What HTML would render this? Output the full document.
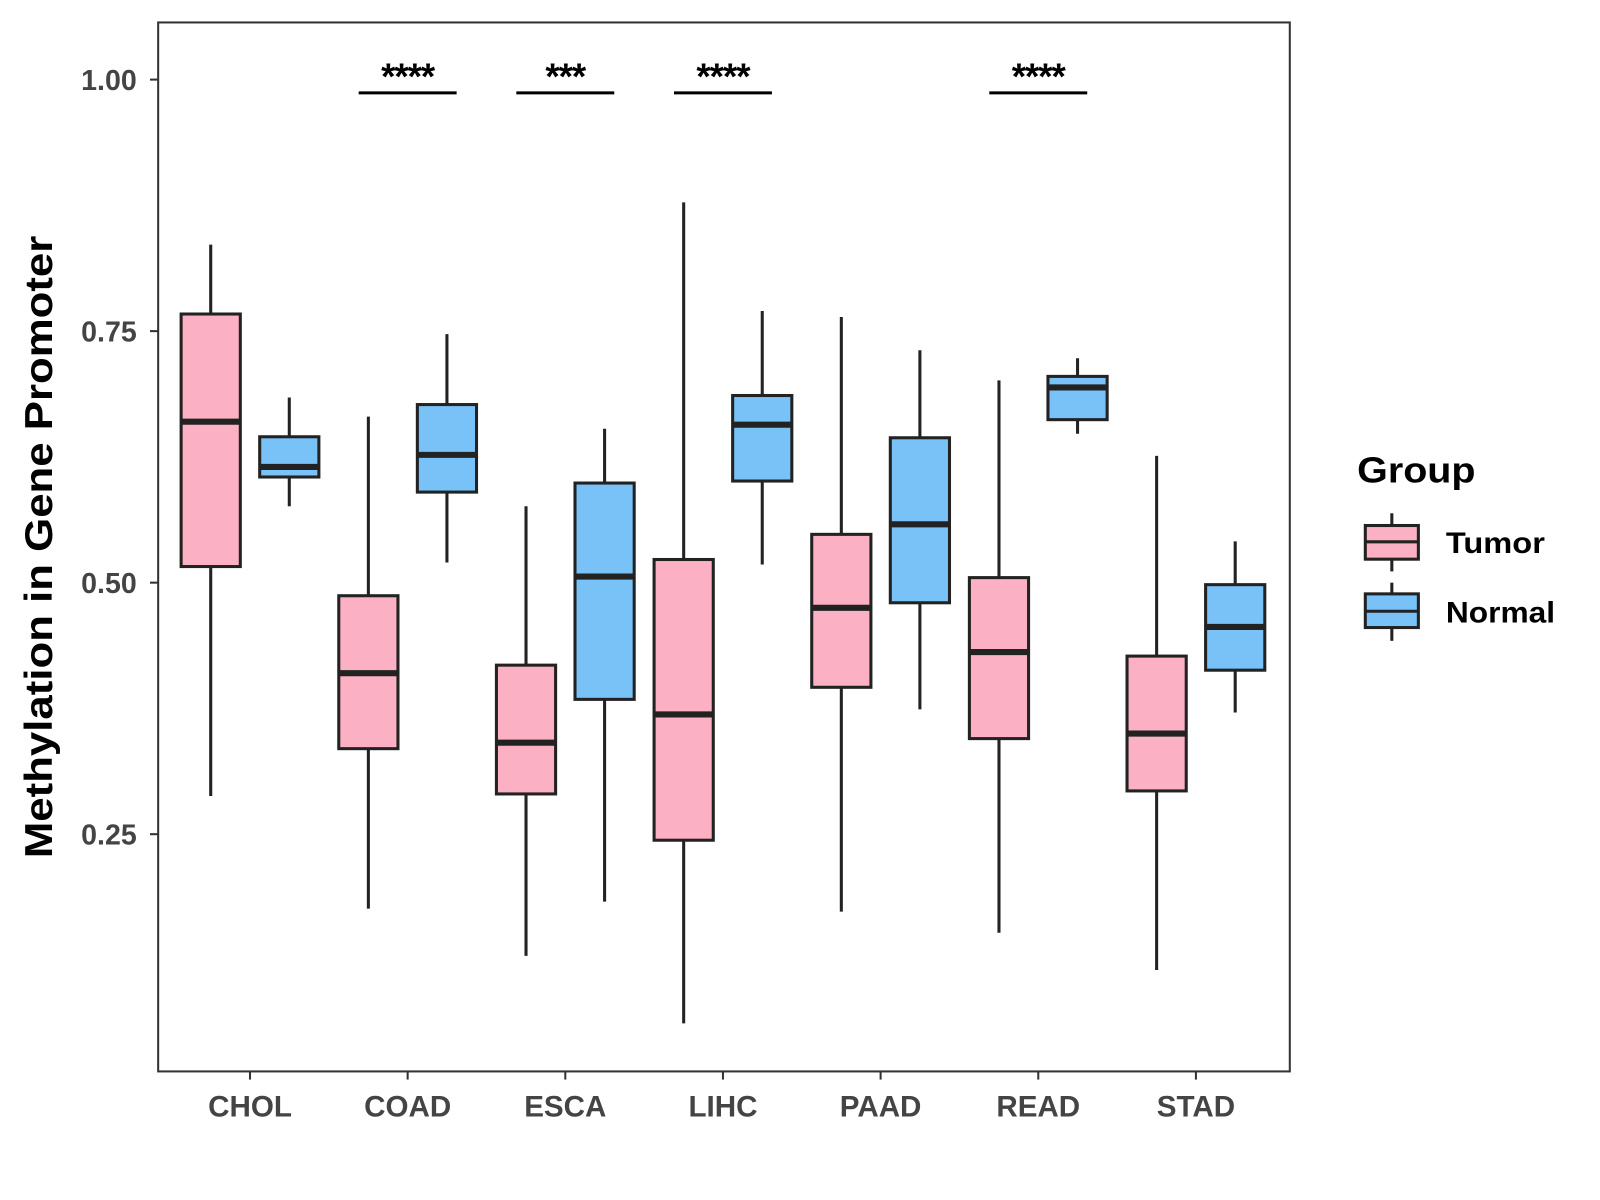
<!DOCTYPE html>
<html><head><meta charset="utf-8"><style>
html,body{margin:0;padding:0;background:#fff;}
svg{display:block;font-family:"Liberation Sans",Arial,sans-serif;}
</style></head><body>
<svg id="chart" width="1600" height="1200" viewBox="0 0 1568 1176">
<rect x="0" y="0" width="1568" height="1176" fill="#fff"/>
<rect x="155" y="22" width="1109" height="1028" fill="#fff" stroke="#333" stroke-width="2"/>
<g id="marks"></g>
<text x="0" y="0" transform="translate(51,536) rotate(-90)" text-anchor="middle" font-size="38" font-weight="bold" fill="#000" textLength="610" lengthAdjust="spacingAndGlyphs">Methylation in Gene Promoter</text>
<g>
<text x="1330" y="473" font-size="35" font-weight="bold" fill="#000" textLength="116" lengthAdjust="spacingAndGlyphs">Group</text>
<g>
<line x1="1364" y1="503" x2="1364" y2="560" stroke="#222" stroke-width="3"/>
<rect x="1338" y="515" width="52" height="33" fill="#fcb0c3" stroke="#222" stroke-width="3"/>
<line x1="1338" y1="531" x2="1390" y2="531" stroke="#222" stroke-width="3"/>
<text x="1417" y="542" font-size="29" font-weight="bold" fill="#000" textLength="97" lengthAdjust="spacingAndGlyphs">Tumor</text>
</g>
<g>
<line x1="1364" y1="571" x2="1364" y2="628" stroke="#222" stroke-width="3"/>
<rect x="1338" y="582" width="52" height="33" fill="#79c2f7" stroke="#222" stroke-width="3"/>
<line x1="1338" y1="599" x2="1390" y2="599" stroke="#222" stroke-width="3"/>
<text x="1417" y="610" font-size="29" font-weight="bold" fill="#000" textLength="107" lengthAdjust="spacingAndGlyphs">Normal</text>
</g>
</g>
</svg>
<script>
const categories = ["CHOL","COAD","ESCA","LIHC","PAAD","READ","STAD"];
// [low, q1, median, q3, high]
const tumorStats = [
  [0.288,0.516,0.660,0.767,0.836],
  [0.176,0.335,0.410,0.487,0.665],
  [0.129,0.290,0.341,0.418,0.576],
  [0.062,0.244,0.369,0.523,0.878],
  [0.173,0.396,0.475,0.548,0.764],
  [0.152,0.345,0.431,0.505,0.701],
  [0.115,0.293,0.350,0.427,0.626]
];
const normalStats = [
  [0.576,0.605,0.615,0.645,0.684],
  [0.520,0.590,0.627,0.677,0.747],
  [0.183,0.384,0.506,0.599,0.653],
  [0.518,0.601,0.657,0.686,0.770],
  [0.374,0.480,0.558,0.644,0.731],
  [0.648,0.662,0.694,0.705,0.723],
  [0.371,0.413,0.456,0.498,0.541]
];
const yTicks = [0.25,0.50,0.75,1.00];
const yTickLabels = ["0.25","0.50","0.75","1.00"];
const sigLabels = ["","****","***","****","","****",""];

const NS="http://www.w3.org/2000/svg";
const g=document.getElementById('marks');
function y(v){return 78+(1-v)*986;}
function x(i){return 245+i*154.5;}
const off=38.5, bw=58;
function mk(tag,attrs){const e=document.createElementNS(NS,tag);for(const k in attrs)e.setAttribute(k,attrs[k]);g.appendChild(e);return e;}

yTicks.forEach((t,i)=>{
  const l=mk('line',{x1:147,x2:155,y1:y(t),y2:y(t),stroke:'#333','stroke-width':2});
  
  
  const tx=mk('text',{x:134,y:y(t)+10,'text-anchor':'end','font-size':28,'font-weight':'bold',fill:'#444'});
  tx.textContent=yTickLabels[i];
  
  
});
categories.forEach((c,i)=>{
  const l=mk('line',{x1:x(i),x2:x(i),y1:1050,y2:1058,stroke:'#333','stroke-width':2});
  
  
  const tx=mk('text',{x:x(i),y:1094,'text-anchor':'middle','font-size':29,'font-weight':'bold',fill:'#444'});
  tx.textContent=c;
  
  
});
function box(cx,s,fill,name){
  const grp=document.createElementNS(NS,'g');g.appendChild(grp);
  
  
  const add=(tag,a)=>{const e=document.createElementNS(NS,tag);for(const k in a)e.setAttribute(k,a[k]);grp.appendChild(e);};
  add('line',{x1:cx,x2:cx,y1:y(s[4]),y2:y(s[0]),stroke:'#222','stroke-width':3});
  add('rect',{x:cx-bw/2,y:y(s[3]),width:bw,height:y(s[1])-y(s[3]),fill:fill,stroke:'#222','stroke-width':3});
  add('line',{x1:cx-bw/2,x2:cx+bw/2,y1:y(s[2]),y2:y(s[2]),stroke:'#222','stroke-width':6});
}
categories.forEach((c,i)=>{
  box(x(i)-off,tumorStats[i],'#fcb0c3','box-tumor-'+c.toLowerCase());
  box(x(i)+off,normalStats[i],'#79c2f7','box-normal-'+c.toLowerCase());
  if(sigLabels[i]){
    const l=mk('line',{x1:x(i)-48,x2:x(i)+48,y1:91,y2:91,stroke:'#000','stroke-width':3});
    
    
    const tx=mk('text',{x:x(i),y:87,'text-anchor':'middle','font-size':36,'font-weight':'bold',fill:'#000','letter-spacing':'-1'});
    tx.textContent=sigLabels[i];
    
    
  }
});
</script>
</body></html>
